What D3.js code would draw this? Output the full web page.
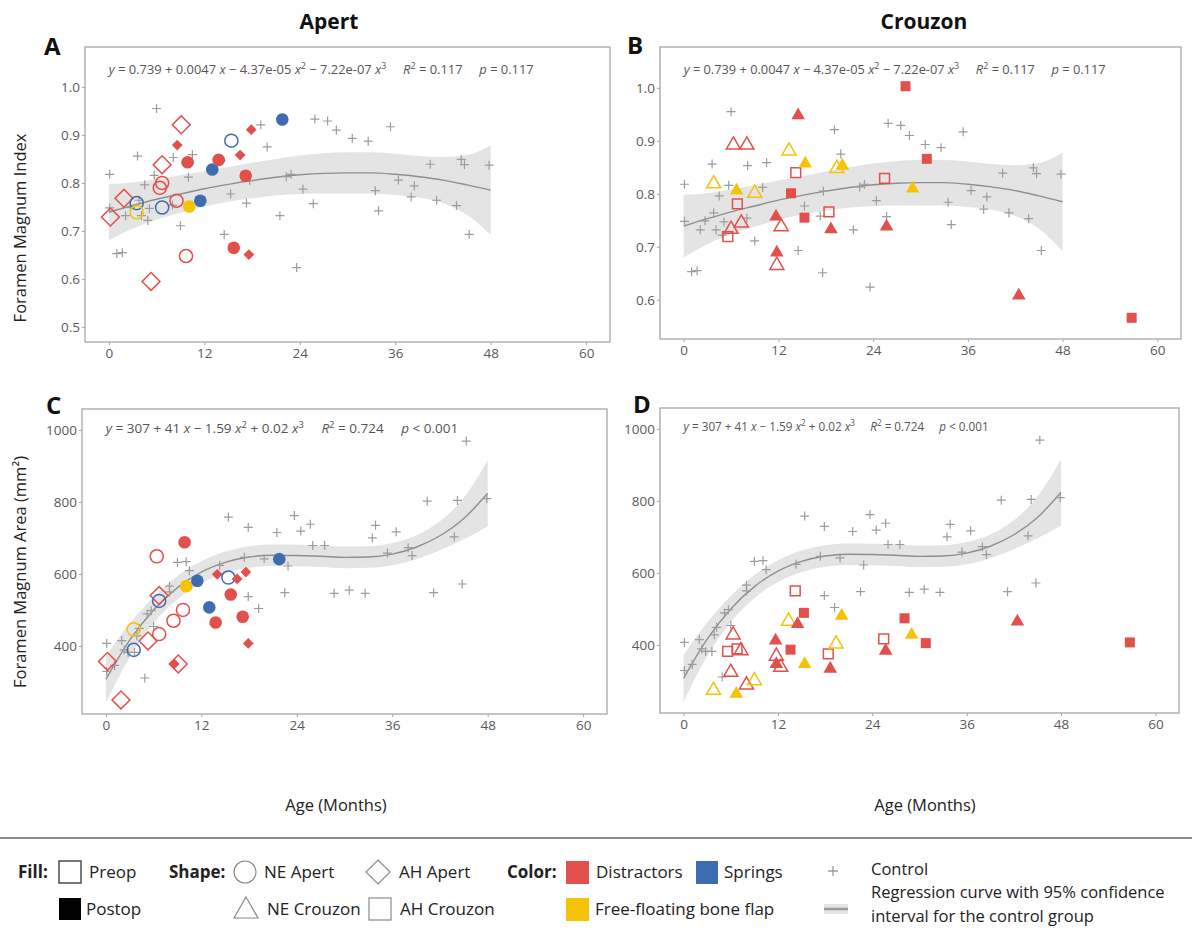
<!DOCTYPE html>
<html>
<head>
<meta charset="utf-8">
<script src="https://cdn.jsdelivr.net/npm/d3@7"></script>
<style>
  body { margin: 0; background: #fff; }
  svg { display: block; font-family: 'Open Sans', sans-serif; }
  text { white-space: pre; }
</style>
</head>
<body>
<svg id="chart" width="1192" height="939"></svg>
<script>
// ---- tick labels ----
const xTicks = [0, 12, 24, 36, 48, 60]
const fmiTicksA = [0.5, 0.6, 0.7, 0.8, 0.9, 1.0]
const fmiTicksB = [0.6, 0.7, 0.8, 0.9, 1.0]
const fmaTicks = [400, 600, 800, 1000]

// ---- control group (gray crosses) ----
const controlAgeFmi = [0.1, 0.1, 1.0, 1.7, 2.1, 2.7, 3.6, 3.8, 4.1, 4.5, 4.9, 5.1, 5.7, 6.0, 8.0, 8.1, 9.0, 10.0, 10.5, 14.5,
  15.3, 17.3, 17.6, 17.7, 19.1, 19.9, 21.5, 22.3, 22.9, 23.6, 24.4, 25.7, 25.9, 27.5, 28.6, 30.6, 32.6, 33.5, 33.9, 35.4,
  36.4, 38.0, 38.4, 40.4, 41.2, 43.7, 44.3, 44.7, 45.3, 47.8]
const controlFmi = [0.818, 0.748, 0.653, 0.655, 0.732, 0.749, 0.856, 0.764, 0.732, 0.796, 0.722, 0.747, 0.816, 0.955, 0.754, 0.853, 0.711, 0.812, 0.859, 0.693,
  0.777, 0.758, 0.651, 0.805, 0.921, 0.875, 0.732, 0.813, 0.818, 0.624, 0.787, 0.757, 0.933, 0.929, 0.910, 0.893, 0.887, 0.784, 0.742, 0.917,
  0.806, 0.771, 0.794, 0.839, 0.764, 0.753, 0.849, 0.838, 0.693, 0.837]
const controlAgeFma = [0.1, 0.1, 1.1, 2.0, 2.3, 2.8, 3.6, 3.9, 4.2, 4.9, 5.2, 5.7, 6.0, 8.0, 8.0, 9.0, 10.1, 10.5, 14.3, 15.4,
  17.4, 17.9, 17.9, 19.2, 19.9, 21.5, 22.5, 22.9, 23.7, 24.5, 25.7, 26.0, 27.5, 28.7, 30.6, 32.6, 33.5, 33.9, 35.4, 36.5,
  38.0, 38.5, 40.4, 41.2, 43.8, 44.2, 44.8, 45.3, 47.9]
const controlFma = [407, 329, 346, 415, 389, 382, 382, 428, 449, 311, 489, 498, 454, 566, 550, 632, 634, 609, 624, 758,
  646, 729, 537, 504, 642, 715, 548, 622, 762, 719, 738, 679, 679, 546, 555, 546, 700, 735, 658, 717,
  673, 651, 802, 548, 703, 804, 572, 969, 809]

// ---- regression curve and 95% band of the control group ----
const fitAge = [0, 3, 6, 9, 12, 15, 18, 21, 24, 27, 30, 33, 36, 39, 42, 45, 48]
const fmiFit = [0.739, 0.753, 0.766, 0.777, 0.788, 0.797, 0.805, 0.812, 0.817, 0.820, 0.821, 0.821, 0.818, 0.813, 0.806, 0.796, 0.785]
const fmiUpper = [0.798, 0.801, 0.808, 0.816, 0.825, 0.833, 0.842, 0.850, 0.857, 0.862, 0.864, 0.864, 0.861, 0.856, 0.854, 0.858, 0.878]
const fmiLower = [0.680, 0.705, 0.724, 0.738, 0.751, 0.761, 0.768, 0.774, 0.777, 0.778, 0.778, 0.778, 0.775, 0.770, 0.758, 0.734, 0.692]
const fmaFit = [307, 416, 500, 562, 605, 632, 647, 652, 651, 649, 646, 647, 655, 674, 706, 754, 824]
const fmaUpper = [372, 463, 536, 594, 635, 662, 677, 682, 681, 679, 676, 677, 686, 707, 746, 812, 916]
const fmaLower = [242, 369, 464, 530, 575, 602, 617, 622, 621, 619, 616, 617, 624, 641, 666, 696, 732]

// ---- Apert patients ----
// shape: c = NE (circle), d = AH (diamond); fill: 0 preop, 1 postop; group: D distractors, S springs, F free-floating flap
const apertAge = [0.2, 1.9, 3.5, 3.5, 5.3, 6.4, 6.7, 6.7, 6.7, 8.5, 8.6, 9.1, 9.7, 9.9, 10.1, 11.5, 13.0, 13.8, 14.0, 15.4, 15.7, 16.5, 17.2, 17.6, 17.9, 21.8]
const apertFmi = [0.729, 0.768, 0.758, 0.739, 0.595, 0.790, 0.800, 0.838, 0.749, 0.763, 0.879, 0.921, 0.648, 0.843, 0.751, 0.763, 0.828, 0.848, 0.846, 0.888, 0.665, 0.858, 0.815, 0.651, 0.911, 0.932]
const apertFma = [357, 250, 389, 446, 414, 649, 433, 540, 525, 470, 350, 350, 500, 688, 566, 581, 507, 465, 599, 590, 543, 586, 481, 605, 407, 641]
const apertShape = ['d', 'd', 'c', 'c', 'd', 'c', 'c', 'd', 'c', 'c', 'd', 'd', 'c', 'c', 'c', 'c', 'c', 'c', 'd', 'c', 'c', 'd', 'c', 'd', 'd', 'c']
const apertFill = [0, 0, 0, 0, 0, 0, 0, 0, 0, 0, 1, 0, 0, 1, 1, 1, 1, 1, 1, 0, 1, 1, 1, 1, 1, 1]
const apertGroup = ['D', 'D', 'S', 'F', 'D', 'D', 'D', 'D', 'S', 'D', 'D', 'D', 'D', 'D', 'F', 'S', 'S', 'D', 'D', 'S', 'D', 'D', 'D', 'D', 'D', 'S']

// ---- Crouzon patients ----
// shape: t = NE (triangle), s = AH (square)
const crouzonAge = [3.8, 5.6, 6.0, 6.3, 6.7, 6.8, 7.3, 8.0, 9.0, 11.7, 11.8, 11.8, 12.35, 13.35, 13.6, 14.2, 14.5, 15.3, 15.4, 18.4, 18.65, 19.4, 20.1, 25.45, 25.7, 28.1, 29.0, 30.8, 42.45, 56.75]
const crouzonFmi = [0.819, 0.719, 0.733, 0.892, 0.806, 0.781, 0.745, 0.892, 0.801, 0.757, 0.665, 0.689, 0.738, 0.881, 0.801, 0.840, 0.948, 0.755, 0.857, 0.766, 0.733, 0.848, 0.853, 0.829, 0.738, 1.003, 0.810, 0.866, 0.608, 0.566]
const crouzonFma = [274, 382, 324, 428, 264, 389, 384, 289, 301, 412, 369, 347, 338, 466, 387, 550, 458, 489, 347, 375, 334, 403, 481, 417, 384, 474, 428, 405, 465, 407]
const crouzonShape = ['t', 's', 't', 't', 't', 's', 't', 't', 't', 't', 't', 't', 't', 't', 's', 's', 't', 's', 't', 's', 't', 't', 't', 's', 't', 's', 't', 's', 't', 's']
const crouzonFill = [0, 0, 0, 0, 1, 0, 0, 0, 0, 1, 0, 1, 0, 0, 1, 0, 1, 1, 1, 0, 1, 0, 1, 0, 1, 1, 1, 1, 1, 1]
const crouzonGroup = ['F', 'D', 'D', 'D', 'F', 'D', 'D', 'D', 'F', 'D', 'D', 'D', 'D', 'F', 'D', 'D', 'D', 'D', 'F', 'D', 'D', 'F', 'F', 'D', 'D', 'D', 'F', 'D', 'D', 'D']

// ---- equation texts (piece, style: i = italic, s = superscript) ----
const fmiEquation = [['y', 'i'], [' = 0.739 + 0.0047 '], ['x', 'i'], [' \u2212 4.37e-05 '], ['x', 'i'], ['2', 's'],
  [' \u2212 7.22e-07 '], ['x', 'i'], ['3', 's'], ['     '], ['R', 'i'], ['2', 's'], [' = 0.117     '], ['p', 'i'], [' = 0.117']]
const fmaEquation = [['y', 'i'], [' = 307 + 41 '], ['x', 'i'], [' \u2212 1.59 '], ['x', 'i'], ['2', 's'],
  [' + 0.02 '], ['x', 'i'], ['3', 's'], ['     '], ['R', 'i'], ['2', 's'], [' = 0.724     '], ['p', 'i'], [' < 0.001']]

const groupColor = { D: '#e2504c', S: '#3d6db0', F: '#f5c306' }
const crossColor = '#9c9c9c'

const svg = d3.select('#chart')

/**
 * Builds the path of a patient marker, centred on 0,0.
 */
function markerPath (shape, filled) {
  if (shape === 'c') return d3.symbol().type(d3.symbolCircle).size(filled ? 125 : 135)()
  if (shape === 'd') return d3.symbol().type(d3.symbolSquare).size(filled ? 58 : 160)()
  if (shape === 't') return d3.symbol().type(d3.symbolTriangle).size(filled ? 80 : 85)()
  return d3.symbol().type(d3.symbolSquare).size(filled ? 100 : 96)()
}

function styleAxis (sel) {
  sel.select('.domain').remove()
  sel.selectAll('.tick line').attr('stroke', '#a6a6a6')
  sel.selectAll('.tick text')
    .attr('fill', '#595959')
    .attr('font-size', '13.5px')
    .attr('font-family', "'Open Sans', sans-serif")
}

function writeEquation (g, pieces, x, y, size) {
  const t = g.append('text')
    .attr('x', x)
    .attr('y', y)
    .attr('font-size', size + 'px')
    .attr('fill', '#555')
  let raised = false
  pieces.forEach(p => {
    const span = t.append('tspan').text(p[0])
    if (p[1] === 'i') span.attr('font-style', 'italic')
    if (p[1] === 's') {
      span.attr('dy', -size * 0.4).attr('font-size', (size * 0.7) + 'px')
      raised = true
    } else if (raised) {
      span.attr('dy', size * 0.4)
      raised = false
    }
  })
}

function drawPanel (cfg) {
  const x = d3.scaleLinear().domain([-3, 63]).range([cfg.left, cfg.right])
  const y = d3.scaleLinear().domain(cfg.yDomain).range([cfg.bottom, cfg.top])
  const g = svg.append('g')

  g.append('g')
    .attr('transform', `translate(0,${cfg.bottom})`)
    .call(d3.axisBottom(x).tickValues(xTicks).tickSize(3).tickPadding(3))
    .call(styleAxis)
  g.append('g')
    .attr('transform', `translate(${cfg.left},0)`)
    .call(d3.axisLeft(y).tickValues(cfg.yTicks).tickSize(3).tickPadding(2).tickFormat(cfg.tickFormat))
    .call(styleAxis)

  // confidence band and regression curve
  const band = d3.area()
    .x((d, i) => x(fitAge[i]))
    .y0((d, i) => y(cfg.lower[i]))
    .y1((d, i) => y(cfg.upper[i]))
    .curve(d3.curveMonotoneX)
  g.append('path').datum(fitAge).attr('d', band).attr('fill', '#e4e4e4')
  const line = d3.line()
    .x((d, i) => x(fitAge[i]))
    .y((d, i) => y(cfg.fit[i]))
    .curve(d3.curveMonotoneX)
  g.append('path').datum(fitAge).attr('d', line)
    .attr('fill', 'none').attr('stroke', '#8f8f8f').attr('stroke-width', 1.4)

  // control crosses
  g.selectAll('path.control')
    .data(cfg.ctlAge)
    .join('path')
    .attr('class', 'control')
    .attr('d', 'M-4.5,0H4.5M0,-4.5V4.5')
    .attr('transform', (d, i) => `translate(${x(d)},${y(cfg.ctlVal[i])})`)
    .attr('stroke', crossColor)
    .attr('stroke-width', 1.2)

  // patients
  g.selectAll('path.patient')
    .data(cfg.age)
    .join('path')
    .attr('class', 'patient')
    .attr('d', (d, i) => markerPath(cfg.shape[i], cfg.fill[i]))
    .attr('transform', (d, i) => `translate(${x(d)},${y(cfg.val[i])})` + (cfg.shape[i] === 'd' ? ' rotate(45)' : ''))
    .attr('fill', (d, i) => cfg.fill[i] ? groupColor[cfg.group[i]] : 'none')
    .attr('stroke', (d, i) => cfg.fill[i] ? 'none' : groupColor[cfg.group[i]])
    .attr('stroke-width', 1.5)

  // frame
  g.append('rect')
    .attr('x', cfg.left).attr('y', cfg.top)
    .attr('width', cfg.right - cfg.left).attr('height', cfg.bottom - cfg.top)
    .attr('fill', 'none').attr('stroke', '#a6a6a6').attr('stroke-width', 1.3)

  writeEquation(g, cfg.equation, x(0), cfg.eqY, cfg.eqSize)

  g.append('text')
    .attr('x', cfg.letter[0]).attr('y', cfg.letter[1])
    .attr('font-size', '24px').attr('font-weight', 'bold').attr('fill', '#111')
    .text(cfg.name)
}

const fmtFmi = d3.format('.1f')
const fmtFma = d3.format('d')

drawPanel({
  name: 'A', letter: [44, 55], left: 85, right: 610, top: 47, bottom: 342,
  yDomain: [0.469, 1.083], yTicks: fmiTicksA, tickFormat: fmtFmi,
  fit: fmiFit, lower: fmiLower, upper: fmiUpper,
  ctlAge: controlAgeFmi, ctlVal: controlFmi,
  age: apertAge, val: apertFmi, shape: apertShape, fill: apertFill, group: apertGroup,
  equation: fmiEquation, eqY: 74, eqSize: 12.9
})
drawPanel({
  name: 'B', letter: [627, 54], left: 660, right: 1181, top: 47, bottom: 339,
  yDomain: [0.526, 1.077], yTicks: fmiTicksB, tickFormat: fmtFmi,
  fit: fmiFit, lower: fmiLower, upper: fmiUpper,
  ctlAge: controlAgeFmi, ctlVal: controlFmi,
  age: crouzonAge, val: crouzonFmi, shape: crouzonShape, fill: crouzonFill, group: crouzonGroup,
  equation: fmiEquation, eqY: 74, eqSize: 12.8
})
drawPanel({
  name: 'C', letter: [46, 414], left: 82, right: 607, top: 409, bottom: 714,
  yDomain: [211, 1058], yTicks: fmaTicks, tickFormat: fmtFma,
  fit: fmaFit, lower: fmaLower, upper: fmaUpper,
  ctlAge: controlAgeFma, ctlVal: controlFma,
  age: apertAge, val: apertFma, shape: apertShape, fill: apertFill, group: apertGroup,
  equation: fmaEquation, eqY: 433, eqSize: 13.5
})
drawPanel({
  name: 'D', letter: [633, 413], left: 660, right: 1179, top: 408, bottom: 713,
  yDomain: [211, 1058], yTicks: fmaTicks, tickFormat: fmtFma,
  fit: fmaFit, lower: fmaLower, upper: fmaUpper,
  ctlAge: controlAgeFma, ctlVal: controlFma,
  age: crouzonAge, val: crouzonFma, shape: crouzonShape, fill: crouzonFill, group: crouzonGroup,
  equation: fmaEquation, eqY: 431, eqSize: 11.7
})

// column titles and axis titles
const titles = [['Apert', 329, 29], ['Crouzon', 924, 29]]
titles.forEach(t => {
  svg.append('text').attr('x', t[1]).attr('y', t[2]).attr('text-anchor', 'middle')
    .attr('font-size', '21px').attr('font-weight', 'bold').attr('fill', '#111').text(t[0])
})
const yTitles = [['Foramen Magnum Index', 228], ['Foramen Magnum Area (mm\u00b2)', 572]]
yTitles.forEach(t => {
  svg.append('text').attr('transform', `translate(26,${t[1]}) rotate(-90)`).attr('text-anchor', 'middle')
    .attr('font-size', '16.5px').attr('fill', '#222').text(t[0])
})
const xTitles = [336, 925]
xTitles.forEach(cx => {
  svg.append('text').attr('x', cx).attr('y', 811).attr('text-anchor', 'middle')
    .attr('font-size', '16.5px').attr('fill', '#222').text('Age (Months)')
})

// ---- legend ----
const lg = svg.append('g').attr('font-size', '17px').attr('fill', '#222')
lg.append('line').attr('x1', 0).attr('x2', 1192).attr('y1', 838).attr('y2', 838)
  .attr('stroke', '#8c8c8c').attr('stroke-width', 2)
const row1 = 878
const row2 = 915
function legendText (x, y, s, bold, size) {
  const t = lg.append('text').attr('x', x).attr('y', y).attr('font-weight', bold ? 'bold' : 'normal').text(s)
  if (size) t.attr('font-size', size)
}
legendText(18, row1, 'Fill:', true)
lg.append('rect').attr('x', 59).attr('y', 861).attr('width', 22).attr('height', 22)
  .attr('fill', 'none').attr('stroke', '#333').attr('stroke-width', 1.3)
legendText(89, row1, 'Preop')
lg.append('rect').attr('x', 59).attr('y', 898).attr('width', 22).attr('height', 22).attr('fill', '#000')
legendText(86, row2, 'Postop')

legendText(169, row1, 'Shape:', true)
const outline = { fill: 'none', stroke: '#8a8a8a', 'stroke-width': 1.2 }
function outlined (sel) { Object.entries(outline).forEach(([k, v]) => sel.attr(k, v)) }
lg.append('circle').attr('cx', 245).attr('cy', 872).attr('r', 11).call(outlined)
legendText(264, row1, 'NE Apert')
lg.append('path').attr('d', 'M0,-12L12,0L0,12L-12,0Z').attr('transform', 'translate(378,872)').call(outlined)
legendText(399, row1, 'AH Apert')
lg.append('path').attr('d', 'M0,-11L12,10L-12,10Z').attr('transform', 'translate(246,908)').call(outlined)
legendText(267, row2, 'NE Crouzon')
lg.append('rect').attr('x', 369).attr('y', 898).attr('width', 22).attr('height', 22).call(outlined)
legendText(400, row2, 'AH Crouzon')

legendText(507, row1, 'Color:', true)
lg.append('rect').attr('x', 566).attr('y', 861).attr('width', 23).attr('height', 23).attr('fill', '#e2504c')
legendText(596, row1, 'Distractors')
lg.append('rect').attr('x', 696).attr('y', 861).attr('width', 22).attr('height', 23).attr('fill', '#3d6db0')
legendText(724, row1, 'Springs')
lg.append('rect').attr('x', 566).attr('y', 898).attr('width', 23).attr('height', 23).attr('fill', '#f5c306')
legendText(595, row2, 'Free-floating bone flap')

lg.append('path').attr('d', 'M-5,0H5M0,-5V5').attr('transform', 'translate(833,871)')
  .attr('stroke', crossColor).attr('stroke-width', 1.3)
legendText(871, 875, 'Control', false, '16.5px')
lg.append('rect').attr('x', 824).attr('y', 904).attr('width', 24).attr('height', 10).attr('fill', '#e4e4e4')
lg.append('line').attr('x1', 824).attr('x2', 848).attr('y1', 909).attr('y2', 909)
  .attr('stroke', '#9a9a9a').attr('stroke-width', 2.5)
legendText(871, 898, 'Regression curve with 95% confidence', false, '16.5px')
legendText(871, 922, 'interval for the control group', false, '16.5px')
</script>
</body>
</html>
